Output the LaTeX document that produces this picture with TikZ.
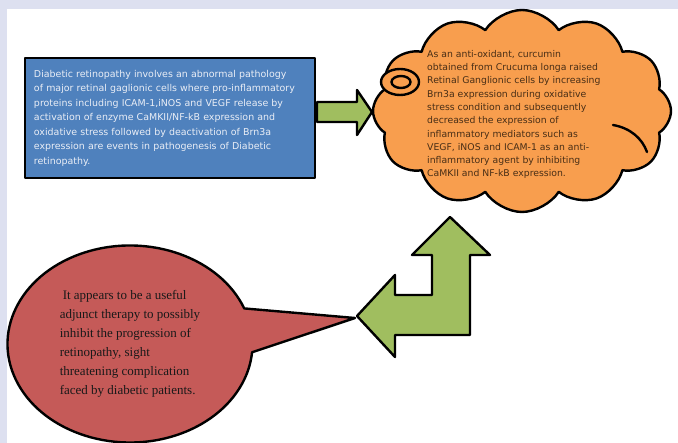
\documentclass[tikz,border=0pt]{standalone}
\usepackage{fontspec}
\setmainfont{Liberation Serif}
\newfontfamily\officesans{DejaVu Sans}
\usepackage{tikz}
\usetikzlibrary{shapes.geometric, shapes.symbols, shapes.callouts}
\usepackage{xcolor}

\definecolor{pageback}{RGB}{221,224,240}
\definecolor{pathoblue}{RGB}{79,129,189}
\definecolor{curcuorange}{RGB}{248,158,78}
\definecolor{arrowgreen}{RGB}{160,190,95}
\definecolor{outcomered}{RGB}{197,90,88}
\definecolor{paletext}{RGB}{234,238,246}
\definecolor{browntext}{RGB}{72,46,22}

\begin{document}
\begin{tikzpicture}[
  x=1pt, y=-1pt,
  % Black outline used by every shape
  outline/.style={draw=black, line width=2.4pt, line join=round},
  % Pathology block
  pathobox/.style={
    outline, rectangle, fill=pathoblue,
    minimum width=290pt, minimum height=120pt,
    text width=272pt, inner xsep=9pt, align=left, text=paletext,
    font=\officesans\fontsize{9.45}{14.5}\selectfont
  },
  % Curcumin thought cloud
  cloudbox/.style={
    outline, cloud, cloud puffs=12, cloud puff arc=115, cloud ignores aspect,
    fill=curcuorange, minimum width=298pt, minimum height=202pt
  },
  bubble/.style={outline, ellipse, fill=curcuorange, inner sep=0pt},
  seam/.style={draw=black, line width=2.4pt, line cap=round},
  cloudtext/.style={
    inner sep=0pt, align=left, text=browntext,
    font=\officesans\fontsize{9.3}{13.3}\selectfont
  },
  % Outcome speech bubble
  outcomebox/.style={
    outline, ellipse callout, callout pointer arc=26, fill=outcomered,
    minimum width=245pt, minimum height=197pt, align=left,
    text=black!90, font=\fontsize{13}{19}\selectfont
  },
  % Block arrows
  blockarrow/.style={outline, fill=arrowgreen}
]

% === PAGE ===
\fill[pageback] (0,0) rectangle (678,443);
\fill[white] (7,9) rectangle (678,443);
\useasboundingbox (0,0) rectangle (678,443);

% === PATHOLOGY BLOCK ===
\node[pathobox] (patho) at (170,118) {Diabetic retinopathy involves an abnormal pathology\\
of major retinal gaglionic cells where pro-inflammatory\\
proteins including ICAM-1,iNOS and VEGF release by\\
activation of enzyme CaMKII/NF-kB expression and\\
oxidative stress followed by deactivation of Brn3a\\
expression are events in pathogenesis of Diabetic\\
retinopathy.};

% === CURCUMIN CLOUD ===
\node[cloudbox] (curcumin) at (522,111) {};
\draw[seam] (613,125) .. controls (630,128) and (642,138) .. (647,152);
\node[bubble, minimum width=38pt, minimum height=26pt] (bubbleout) at (400,82) {};
\node[bubble, minimum width=19pt, minimum height=12pt] (bubblein) at (401,82) {};
\node[cloudtext, anchor=north west] (curcutext) at (427,50) {As an anti-oxidant, curcumin\\
obtained from Crucuma longa raised\\
Retinal Ganglionic cells by increasing\\
Brn3a expression during oxidative\\
stress condition and subsequently\\
decreased the expression of\\
inflammatory mediators such as\\
VEGF, iNOS and ICAM-1 as an anti-\\
inflammatory agent by inhibiting\\
CaMKII and NF-kB expression.};

% === OUTCOME BUBBLE ===
\node[outcomebox, callout absolute pointer={(355,318)}] (adjunct) at (130,344)
  {\hspace{3pt}It appears to be a useful\\
   adjunct therapy to possibly\\
   inhibit the progression of\\
   retinopathy, sight\\
   threatening complication\\
   faced by diabetic patients.};

% === BLOCK ARROWS ===
\draw[blockarrow] (317,102) -- (357,102) -- (357,90) -- (372,112)
  -- (357,135) -- (357,122) -- (317,122) -- cycle;
\draw[blockarrow] (357,316) -- (395,275) -- (395,295) -- (432,295)
  -- (432,255) -- (412,255) -- (450,217) -- (490,255) -- (470,255)
  -- (470,335) -- (395,335) -- (395,357) -- cycle;

\end{tikzpicture}
\end{document}
